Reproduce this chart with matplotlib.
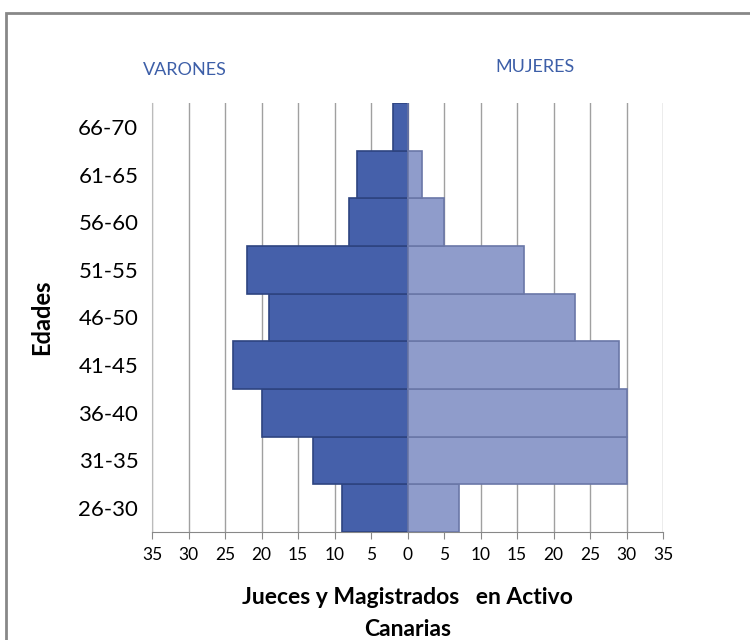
import matplotlib.pyplot as plt
import matplotlib.patches as mpatches
import numpy as np

plt.rcParams['font.family'] = ['Lato', 'DejaVu Sans']

edades = ['26-30', '31-35', '36-40', '41-45', '46-50', '51-55', '56-60', '61-65', '66-70']
varones = [9, 13, 20, 24, 19, 22, 8, 7, 2]
mujeres = [7, 30, 30, 29, 23, 16, 5, 2, 0]

color_v = '#4560AA'
color_m = '#8F9CCB'

fig = plt.figure(figsize=(7.5, 6.4), dpi=100)
ax = fig.add_axes([0.203, 0.169, 0.681, 0.670])

y = np.arange(len(edades))
ax.barh(y, [-v for v in varones], height=1.0, color=color_v, edgecolor='#2E4480', linewidth=1.2, zorder=3)
ax.barh(y, mujeres, height=1.0, color=color_m, edgecolor='#6A77A8', linewidth=1.2, zorder=3)

ax.set_xlim(-35, 35)
ax.set_ylim(-0.5, len(edades) - 0.5)
ticks = np.arange(-35, 36, 5)
ax.set_xticks(ticks)
ax.set_xticklabels([str(abs(t)) for t in ticks], fontsize=12.5)
ax.set_yticks(y)
ax.set_yticklabels(edades, fontsize=16)
ax.tick_params(axis='y', length=0, pad=10)
ax.tick_params(axis='x', direction='out', length=5, color='#888888', pad=6)
ax.grid(axis='x', color='#a0a0a0', linewidth=1, zorder=0)

for side in ['top', 'right']:
    ax.spines[side].set_visible(False)
ax.spines['bottom'].set_color('#888888')
ax.spines['left'].set_color('#bbbbbb')

ax.set_ylabel('Edades', fontsize=17, fontweight='bold', labelpad=18)
ax.set_xlabel('Jueces y Magistrados   en Activo\nCanarias', fontsize=16.5, fontweight='bold',
              labelpad=17, linespacing=1.65)

fig.text(0.247, 0.89, 'VARONES', fontsize=13, color='#3D5FA8', ha='center', va='center')
fig.text(0.713, 0.895, 'MUJERES', fontsize=13, color='#3D5FA8', ha='center', va='center')

fig.patches.append(mpatches.Rectangle((0.008, -0.01), 1.0, 0.99, transform=fig.transFigure,
                                      fill=False, edgecolor='#888888', linewidth=2))

fig.savefig('out.png', dpi=100)
